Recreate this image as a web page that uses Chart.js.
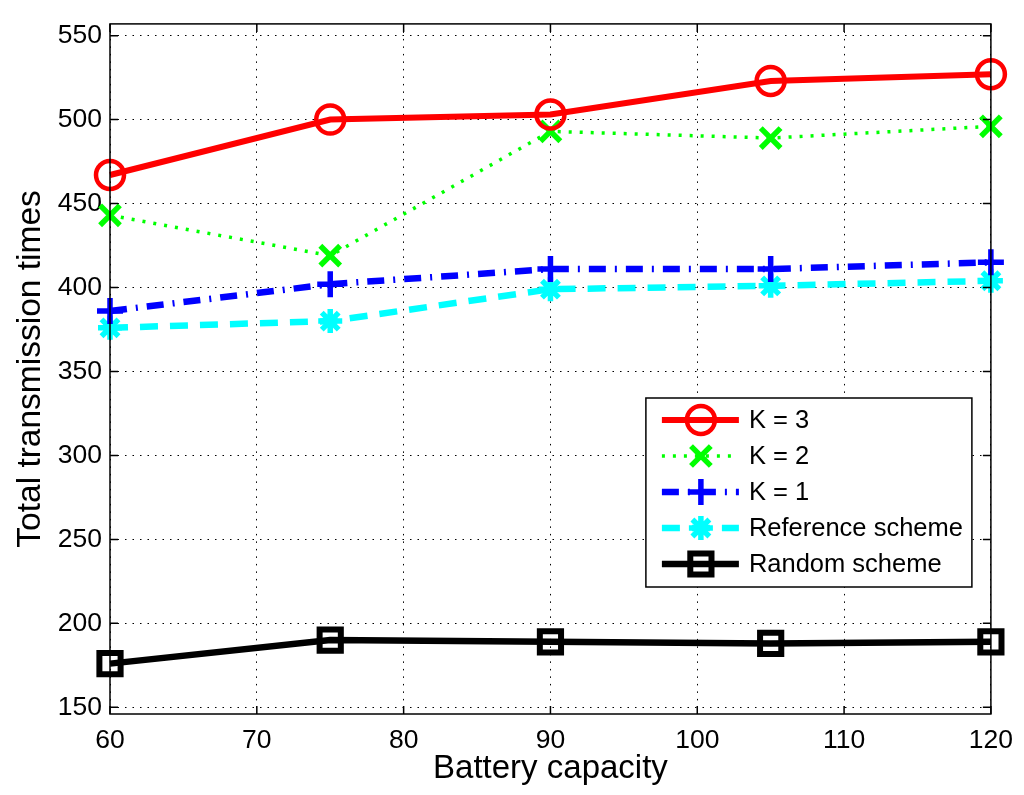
<!DOCTYPE html>
<html>
<head>
<meta charset="utf-8">
<script src="https://cdn.jsdelivr.net/npm/chart.js@4.4.0/dist/chart.umd.min.js"></script>
<style>
  html, body { margin: 0; padding: 0; background: #fff; }
  #wrap { width: 1024px; height: 795px; position: relative; }
</style>
</head>
<body>
<div id="wrap"><canvas id="chart"></canvas></div>
<script>
// values
const batteryCapacity = [60, 75, 90, 105, 120];
const k3 = [467, 500, 503, 523, 527];
const k2 = [443, 419, 493, 489, 496];
const k1 = [386, 402, 411, 411, 415];
const referenceScheme = [376, 380, 399, 401, 404];
const randomScheme = [176, 190, 189, 188, 189];
const yTicks = [150, 200, 250, 300, 350, 400, 450, 500, 550];
const xTicks = [60, 70, 80, 90, 100, 110, 120];

const FONT = "'Liberation Sans', Arial, Helvetica, sans-serif";
const pts = vals => vals.map((v, i) => ({ x: batteryCapacity[i], y: v }));

// box round the plot + inward tick marks, like matlab
const axesBox = {
  id: "axesBox",
  afterDatasetsDraw(chart) {
    const { ctx, chartArea: a, scales } = chart;
    ctx.save();
    ctx.strokeStyle = "#000";
    ctx.lineWidth = 1.5;
    ctx.setLineDash([]);
    ctx.strokeRect(a.left, a.top, a.right - a.left, a.bottom - a.top);
    ctx.beginPath();
    xTicks.forEach(v => {
      const x = scales.x.getPixelForValue(v);
      ctx.moveTo(x, a.bottom); ctx.lineTo(x, a.bottom - 8);
      ctx.moveTo(x, a.top); ctx.lineTo(x, a.top + 8);
    });
    yTicks.forEach(v => {
      const y = scales.y.getPixelForValue(v);
      ctx.moveTo(a.left, y); ctx.lineTo(a.left + 8, y);
      ctx.moveTo(a.right, y); ctx.lineTo(a.right - 8, y);
    });
    ctx.stroke();
    ctx.restore();
  }
};

// legend drawn inside the axes (lower right)
const innerLegend = {
  id: "innerLegend",
  afterDraw(chart) {
    const { ctx, chartArea: a } = chart;
    const sets = chart.data.datasets;
    const w = 326, rowH = 36;
    const h = sets.length * rowH + 9;
    const x0 = a.right - 19 - w, y0 = a.bottom - 127 - h;
    ctx.save();
    ctx.fillStyle = "#fff";
    ctx.fillRect(x0, y0, w, h);
    ctx.strokeStyle = "#000";
    ctx.lineWidth = 1.5;
    ctx.strokeRect(x0, y0, w, h);
    sets.forEach((ds, i) => {
      const cy = y0 + 22 + i * rowH;
      ctx.save();
      ctx.strokeStyle = ds.borderColor;
      ctx.lineWidth = ds.borderWidth;
      ctx.setLineDash(ds.borderDash || []);
      ctx.beginPath();
      ctx.moveTo(x0 + 16, cy);
      ctx.lineTo(x0 + 93, cy);
      ctx.stroke();
      ctx.setLineDash([]);
      ctx.lineWidth = ds.pointBorderWidth;
      ctx.strokeStyle = ds.pointBorderColor;
      ctx.fillStyle = ds.pointBackgroundColor;
      Chart.helpers.drawPoint(ctx, {
        pointStyle: ds.pointStyle, radius: ds.pointRadius,
        rotation: 0, borderWidth: ds.pointBorderWidth
      }, x0 + 55, cy);
      ctx.restore();
      ctx.fillStyle = "#000";
      ctx.font = "25.5px " + FONT;
      ctx.textBaseline = "middle";
      ctx.fillText(ds.label, x0 + 103, cy + 1);
    });
    ctx.restore();
  }
};

function series(label, data, color, width, dash, style, radius, pbw, fill) {
  return {
    label, data: pts(data),
    borderColor: color, borderWidth: width, borderDash: dash,
    pointStyle: style, pointRadius: radius, pointHoverRadius: radius,
    pointBorderColor: color, pointBorderWidth: pbw,
    pointBackgroundColor: fill, tension: 0, clip: false
  };
}

new Chart(document.getElementById("chart").getContext("2d"), {
  type: "line",
  data: {
    datasets: [
      series("K = 3", k3, "#ff0000", 6, [], "circle", 14, 4.5, "rgba(0,0,0,0)"),
      series("K = 2", k2, "#00ff00", 3.5, [3, 8], "crossRot", 14, 5.5, "#00ff00"),
      series("K = 1", k1, "#0000ff", 6.5, [17, 9, 2, 9], "cross", 13, 5.5, "#0000ff"),
      series("Reference scheme", referenceScheme, "#00ffff", 6.5, [18, 12], "star", 12, 5.5, "#00ffff"),
      series("Random scheme", randomScheme, "#000000", 6.5, [], "rect", 15, 6, "rgba(0,0,0,0)")
    ]
  },
  options: {
    responsive: true,
    maintainAspectRatio: false,
    animation: false,
    layout: { padding: { left: 0, right: 32, top: 19, bottom: 0 } },
    plugins: { legend: { display: false }, tooltip: { enabled: false } },
    scales: {
      x: {
        type: "linear", min: 60, max: 120,
        afterBuildTicks: s => { s.ticks = xTicks.map(v => ({ value: v })); },
        afterFit: s => { s.height = 81; },
        grid: { color: "#000", lineWidth: 1, drawTicks: false },
        border: { display: false, dash: [1.5, 6] },
        ticks: { color: "#000", padding: 11, font: { family: FONT, size: 26.5 }, maxRotation: 0 },
        title: { display: true, text: "Battery capacity", color: "#000",
                 font: { family: FONT, size: 33 }, padding: { top: 0, bottom: 6 } }
      },
      y: {
        min: 146, max: 557,
        afterBuildTicks: s => { s.ticks = yTicks.map(v => ({ value: v })); },
        afterFit: s => { s.width = 110; },
        grid: { color: "#000", lineWidth: 1, drawTicks: false },
        border: { display: false, dash: [1.5, 6] },
        ticks: { color: "#000", padding: 8, font: { family: FONT, size: 26.5 } },
        title: { display: true, text: "Total transmission times", color: "#000",
                 font: { family: FONT, size: 33.5 }, padding: { top: 11, bottom: 0 } }
      }
    }
  },
  plugins: [axesBox, innerLegend]
});
</script>
</body>
</html>
